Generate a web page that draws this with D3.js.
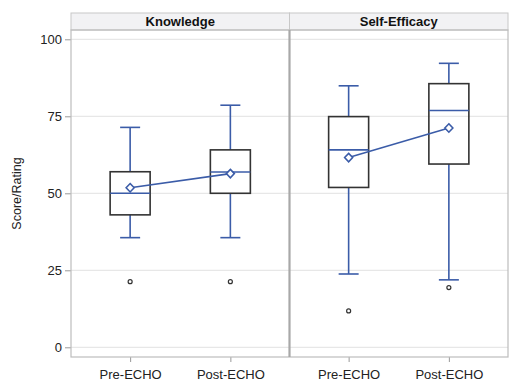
<!DOCTYPE html>
<html>
<head>
<meta charset="utf-8">
<script src="https://cdn.jsdelivr.net/npm/d3@7"></script>
<style>
body { margin: 0; background: #fff; }
text { font-family: "Liberation Sans", Arial, sans-serif; }
</style>
</head>
<body>
<div id="chart"></div>
<script>
var panels = ["Knowledge", "Self-Efficacy"];
var groups = ["Pre-ECHO", "Post-ECHO"];
var yTicks = [0, 25, 50, 75, 100];

// per panel, per group
var whiskerLow = [[35.6, 35.6], [23.8, 21.9]];
var q1 = [[43.0, 50.0], [51.9, 59.5]];
var medians = [[50.0, 56.9], [64.1, 76.9]];
var q3 = [[57.0, 64.1], [74.9, 85.6]];
var whiskerHigh = [[71.4, 78.6], [84.9, 92.2]];
var means = [[51.8, 56.4], [61.6, 71.2]];
var outliers = [[[21.3], [21.3]], [[11.8], [19.4]]];

var width = 518, height = 391;
var plotLeft = 71, plotRight = 508, plotTop = 30, plotBottom = 357;
var headerTop = 13;
var panelW = (plotRight - plotLeft) / 2;

var blue = "#3b5ca8";
var dark = "#333";

var svg = d3.select("#chart").append("svg")
    .attr("width", width)
    .attr("height", height);

var y = d3.scaleLinear().domain([0, 100]).range([347.3, 39.3]);

var x = d3.scalePoint().domain(groups)
    .range([0, panelW]).padding(0.59);

// y axis
svg.append("g")
    .attr("transform", "translate(" + plotLeft + ",0)")
    .call(d3.axisLeft(y).tickValues(yTicks).tickSize(6).tickPadding(3))
    .call(function(g) {
        g.select(".domain").remove();
        g.selectAll(".tick line").attr("stroke", "#999");
        g.selectAll(".tick text").attr("font-size", 13).attr("fill", "#222");
    });

svg.append("text")
    .attr("transform", "translate(21," + ((plotTop + plotBottom) / 2) + ") rotate(-90)")
    .attr("text-anchor", "middle")
    .attr("font-size", 12.5)
    .attr("fill", "#222")
    .text("Score/Rating");

// diamond marker, 4px half-size
var diamond = "M0,-4.2L4,0L0,4.2L-4,0Z";

panels.forEach(function(name, p) {
    var px = plotLeft + p * panelW;
    var g = svg.append("g").attr("transform", "translate(" + px + ",0)");

    // header
    g.append("rect")
        .attr("x", 0).attr("y", headerTop)
        .attr("width", panelW).attr("height", plotTop - headerTop)
        .attr("fill", "#f2f2f4").attr("stroke", "#c8c8c8");
    g.append("text")
        .attr("x", panelW / 2).attr("y", plotTop - 4.5)
        .attr("text-anchor", "middle")
        .attr("font-size", 13).attr("font-weight", "bold")
        .attr("fill", "#111")
        .text(name);

    // grid
    g.selectAll(".grid").data(yTicks).enter().append("line")
        .attr("x1", 0).attr("x2", panelW)
        .attr("y1", function(d) { return y(d); })
        .attr("y2", function(d) { return y(d); })
        .attr("stroke", "#e2e2e2");

    // x axis
    g.append("g")
        .attr("transform", "translate(0," + plotBottom + ")")
        .call(d3.axisBottom(x).tickSize(5).tickPadding(8))
        .call(function(a) {
            a.select(".domain").remove();
            a.selectAll(".tick line").attr("stroke", "#999");
            a.selectAll(".tick text").attr("font-size", 13).attr("fill", "#222");
        });

    groups.forEach(function(gr, i) {
        var cx = x(gr);
        // whiskers
        g.append("line")
            .attr("x1", cx).attr("x2", cx)
            .attr("y1", y(q3[p][i])).attr("y2", y(whiskerHigh[p][i]))
            .attr("stroke", blue).attr("stroke-width", 1.6);
        g.append("line")
            .attr("x1", cx).attr("x2", cx)
            .attr("y1", y(q1[p][i])).attr("y2", y(whiskerLow[p][i]))
            .attr("stroke", blue).attr("stroke-width", 1.6);
        [whiskerHigh[p][i], whiskerLow[p][i]].forEach(function(v) {
            g.append("line")
                .attr("x1", cx - 10).attr("x2", cx + 10)
                .attr("y1", y(v)).attr("y2", y(v))
                .attr("stroke", blue).attr("stroke-width", 1.6);
        });
        // box
        g.append("rect")
            .attr("x", cx - 20).attr("width", 40)
            .attr("y", y(q3[p][i]))
            .attr("height", y(q1[p][i]) - y(q3[p][i]))
            .attr("fill", "none").attr("stroke", dark).attr("stroke-width", 1.6);
        g.append("line")
            .attr("x1", cx - 20).attr("x2", cx + 20)
            .attr("y1", y(medians[p][i])).attr("y2", y(medians[p][i]))
            .attr("stroke", blue).attr("stroke-width", 1.6);
        // outliers
        g.selectAll(null).data(outliers[p][i]).enter().append("circle")
            .attr("cx", cx).attr("cy", function(d) { return y(d); })
            .attr("r", 2).attr("fill", "none")
            .attr("stroke", dark).attr("stroke-width", 1.2);
    });

    // mean line
    var line = d3.line()
        .x(function(d, i) { return x(groups[i]); })
        .y(function(d) { return y(d); });
    g.append("path")
        .attr("d", line(means[p]))
        .attr("fill", "none").attr("stroke", blue).attr("stroke-width", 1.6);
    g.selectAll(".mean").data(means[p]).enter().append("path")
        .attr("d", diamond)
        .attr("transform", function(d, i) {
            return "translate(" + x(groups[i]) + "," + y(d) + ")";
        })
        .attr("fill", "#fff").attr("stroke", blue).attr("stroke-width", 1.6);
});

// frame
svg.append("rect")
    .attr("x", plotLeft).attr("y", plotTop)
    .attr("width", plotRight - plotLeft).attr("height", plotBottom - plotTop)
    .attr("fill", "none").attr("stroke", "#bdbdbd").attr("stroke-width", 1.2);
svg.append("line")
    .attr("x1", plotLeft + panelW).attr("x2", plotLeft + panelW)
    .attr("y1", plotTop).attr("y2", plotBottom)
    .attr("stroke", "#a8a8a8").attr("stroke-width", 2.2);
</script>
</body>
</html>
